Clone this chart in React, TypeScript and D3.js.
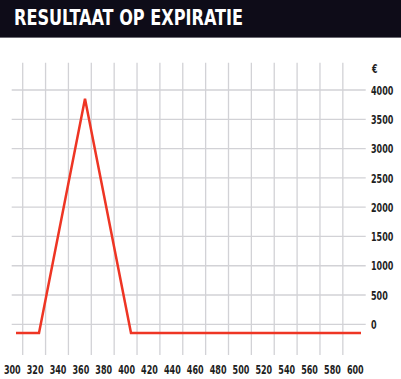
import React from "react";
import * as d3 from "d3";

const title = "RESULTAAT OP EXPIRATIE";
const unitLabel = "€";
const strikes = [300, 320, 360, 400, 600];
const results = [-150, -150, 3850, -150, -150];
const xTicks = d3.range(300, 601, 20);
const gridTicks = d3.range(300, 581, 20);
const yTicks = [0, 500, 1000, 1500, 2000, 2500, 3000, 3500, 4000];

const W = 401;
const H = 379;
const FONT = "'DejaVu Sans Condensed', 'Liberation Sans Narrow', Arial, sans-serif";
const DIGIT_W = 5.6;

export default function App() {
  const x = d3.scaleLinear().domain([300, 600]).range([16, 361]);
  const xLabel = d3.scaleLinear().domain([300, 600]).range([12.3, 355.3]);
  const y = d3.scaleLinear().domain([0, 4000]).range([324.3, 90]);
  const line = d3
    .line<number>()
    .x((_, i) => x(strikes[i]))
    .y((d) => y(d));
  const gridOffset = 10.4;

  return (
    <svg
      width={W}
      height={H}
      style={{ position: "fixed", left: 0, top: 0, background: "#fff" }}
    >
      <rect x={0} y={0} width={W} height={37.5} fill="#0e0c18" />
      <line x1={0} x2={W} y1={37.5} y2={37.5} stroke="#6b6a72" strokeWidth={1} />
      <text
        x={14}
        y={25}
        fill="#ffffff"
        fontFamily={FONT}
        fontWeight="bold"
        fontSize={21}
        textLength={229}
        lengthAdjust="spacingAndGlyphs"
      >
        {title}
      </text>
      {gridTicks.map((t) => (
        <line
          key={"v" + t}
          x1={xLabel(t) + gridOffset}
          x2={xLabel(t) + gridOffset}
          y1={62.7}
          y2={355}
          stroke="#d2d2d6"
          strokeWidth={1.3}
        />
      ))}
      {yTicks.map((t) => (
        <line
          key={"h" + t}
          x1={11.7}
          x2={365.7}
          y1={y(t)}
          y2={y(t)}
          stroke="#d2d2d6"
          strokeWidth={1.3}
        />
      ))}
      {yTicks.map((t) => (
        <text
          key={"yl" + t}
          x={371}
          y={y(t)}
          dy="0.36em"
          fill="#1e1e1e"
          fontFamily={FONT}
          fontWeight="bold"
          fontSize={13}
          textLength={String(t).length * DIGIT_W}
          lengthAdjust="spacingAndGlyphs"
        >
          {t}
        </text>
      ))}
      <text
        x={372}
        y={69}
        dy="0.36em"
        fill="#1e1e1e"
        fontFamily={FONT}
        fontWeight="bold"
        fontSize={12}
        textLength={5.5}
        lengthAdjust="spacingAndGlyphs"
      >
        {unitLabel}
      </text>
      {xTicks.map((t) => (
        <text
          key={"xl" + t}
          x={xLabel(t) - (String(t).length * DIGIT_W) / 2}
          y={369}
          dy="0.36em"
          fill="#1e1e1e"
          fontFamily={FONT}
          fontWeight="bold"
          fontSize={13}
          textLength={String(t).length * DIGIT_W}
          lengthAdjust="spacingAndGlyphs"
        >
          {t}
        </text>
      ))}
      <path
        d={line(results) || ""}
        fill="none"
        stroke="#ee3524"
        strokeWidth={2.5}
        strokeLinejoin="miter"
      />
    </svg>
  );
}
